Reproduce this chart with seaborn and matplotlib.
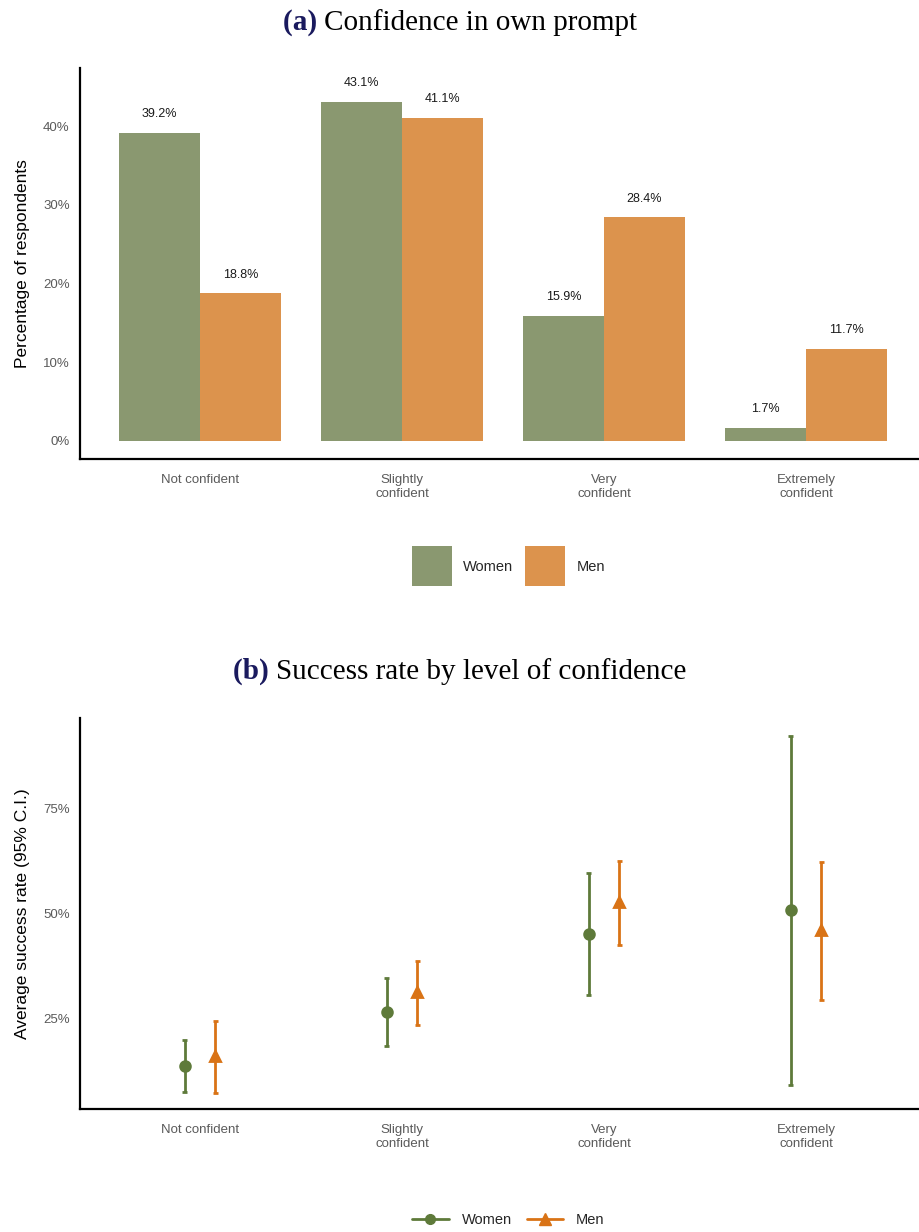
import matplotlib
matplotlib.use('Agg')
import matplotlib.pyplot as plt
from matplotlib.lines import Line2D
from matplotlib.ticker import PercentFormatter
import seaborn as sns
import pandas as pd

sns.set_style('white')
plt.rcParams['font.family'] = ['Liberation Sans', 'DejaVu Sans']

# Data
levels = ['Not confident', 'Slightly\nconfident', 'Very\nconfident', 'Extremely\nconfident']
genders = ['Women', 'Men']
share_women = [39.2, 43.1, 15.9, 1.7]
share_men = [18.8, 41.1, 28.4, 11.7]

rate_women = [13.7, 26.6, 45.2, 50.7]
lo_women = [7.6, 18.5, 30.6, 9.3]
hi_women = [19.9, 34.7, 59.6, 92.2]
rate_men = [16.1, 31.3, 52.7, 46.0]
lo_men = [7.2, 23.5, 42.5, 29.5]
hi_men = [24.5, 38.7, 62.5, 62.1]

bar_colors = {'Women': '#8A9870', 'Men': '#DC934D'}
point_colors = {'Women': '#5E7A3A', 'Men': '#D97316'}

share = pd.DataFrame({
    'level': levels * 2,
    'gender': ['Women'] * 4 + ['Men'] * 4,
    'pct': share_women + share_men,
})

# long form: lo, mid, hi per group -> median = mid, 100% interval = lo..hi
rows = []
for g, mid, lo, hi in [('Women', rate_women, lo_women, hi_women),
                       ('Men', rate_men, lo_men, hi_men)]:
    for i, lev in enumerate(levels):
        for v in (lo[i], mid[i], hi[i]):
            rows.append({'level': lev, 'gender': g, 'rate': v})
rate = pd.DataFrame(rows)

fig = plt.figure(figsize=(9.2, 12.32), dpi=100)
ax1 = fig.add_axes([0.087, 0.6274, 0.913, 0.3174])
ax2 = fig.add_axes([0.087, 0.0998, 0.913, 0.3174])

# Panel (a)
sns.barplot(data=share, x='level', y='pct', hue='gender', hue_order=genders,
            palette=bar_colors, width=0.8, saturation=1, linewidth=0,
            ax=ax1, legend=False)
for cont in ax1.containers:
    ax1.bar_label(cont, labels=[f'{v:.1f}%' for v in cont.datavalues],
                  padding=9, fontsize=9, color='#1a1a1a')
ax1.set_ylim(-2.3, 47.4)
ax1.set_xlim(-0.594, 3.564)
ax1.set_yticks([0, 10, 20, 30, 40])
ax1.yaxis.set_major_formatter(PercentFormatter(decimals=0))
ax1.set_xlabel('')
ax1.set_ylabel('Percentage of respondents', fontsize=12.5, color='black')
handles_a = [Line2D([], [], ls='none', marker='s', markersize=29.5,
                    markerfacecolor=bar_colors[g], markeredgewidth=0) for g in genders]
ax1.legend(handles_a, genders, loc='center', bbox_to_anchor=(0.51, -0.276),
           ncol=2, frameon=False, fontsize=10.5, handlelength=2.8,
           handletextpad=0.75, columnspacing=0.8)

# Panel (b)
sns.pointplot(data=rate, x='level', y='rate', hue='gender', hue_order=genders,
              palette=point_colors, estimator='median', errorbar=('pi', 100),
              dodge=0.15, markers=['o', '^'], linestyles='none', capsize=0.025,
              err_kws={'linewidth': 2, 'solid_capstyle': 'butt'}, markersize=7,
              ax=ax2, legend=False)
ax2.set_ylim(3.5, 96.4)
ax2.set_xlim(-0.594, 3.564)
ax2.set_yticks([25, 50, 75])
ax2.yaxis.set_major_formatter(PercentFormatter(decimals=0))
ax2.set_xlabel('')
ax2.set_ylabel('Average success rate (95% C.I.)', fontsize=12.5, color='black')
handles_b = [Line2D([], [], color=point_colors['Women'], marker='o', lw=2, markersize=7),
             Line2D([], [], color=point_colors['Men'], marker='^', lw=2, markersize=8)]
ax2.legend(handles_b, genders, loc='center', bbox_to_anchor=(0.51, -0.283),
           ncol=2, frameon=False, fontsize=10.5, handlelength=2.5,
           handletextpad=0.9, columnspacing=1.0)

for ax in (ax1, ax2):
    sns.despine(ax=ax)
    for s in ('left', 'bottom'):
        ax.spines[s].set_linewidth(1.6)
        ax.spines[s].set_color('black')
    ax.tick_params(axis='both', length=4, width=1.3, color='#333333',
                   labelsize=9.5, labelcolor='#5a5a5a', direction='out')
    ax.tick_params(axis='x', pad=7)
    ax.yaxis.labelpad = 9

# titles
tfont = ['Liberation Serif', 'DejaVu Serif']
for y, lab, txt in [(0.982, '(a)', 'Confidence in own prompt'),
                    (0.455, '(b)', 'Success rate by level of confidence')]:
    fig.text(0.5, y, lab + ' ', fontsize=21, family=tfont, weight='bold',
             color='#1a1a5e', ha='right', va='center')
    fig.text(0.5, y, txt, fontsize=21, family=tfont, color='black',
             ha='left', va='center')

fig.canvas.draw()
# recentre each title pair
r = fig.canvas.get_renderer()
for y in (0.982, 0.455):
    pair = [t for t in fig.texts if t.get_position()[1] == y]
    bbs = [t.get_window_extent(r) for t in pair]
    left = min(b.x0 for b in bbs)
    right = max(b.x1 for b in bbs)
    shift = (920 * 0.5 - (left + right) / 2) / 920
    for t in pair:
        x, yy = t.get_position()
        t.set_position((x + shift, yy))

fig.savefig('out.png', dpi=100)
